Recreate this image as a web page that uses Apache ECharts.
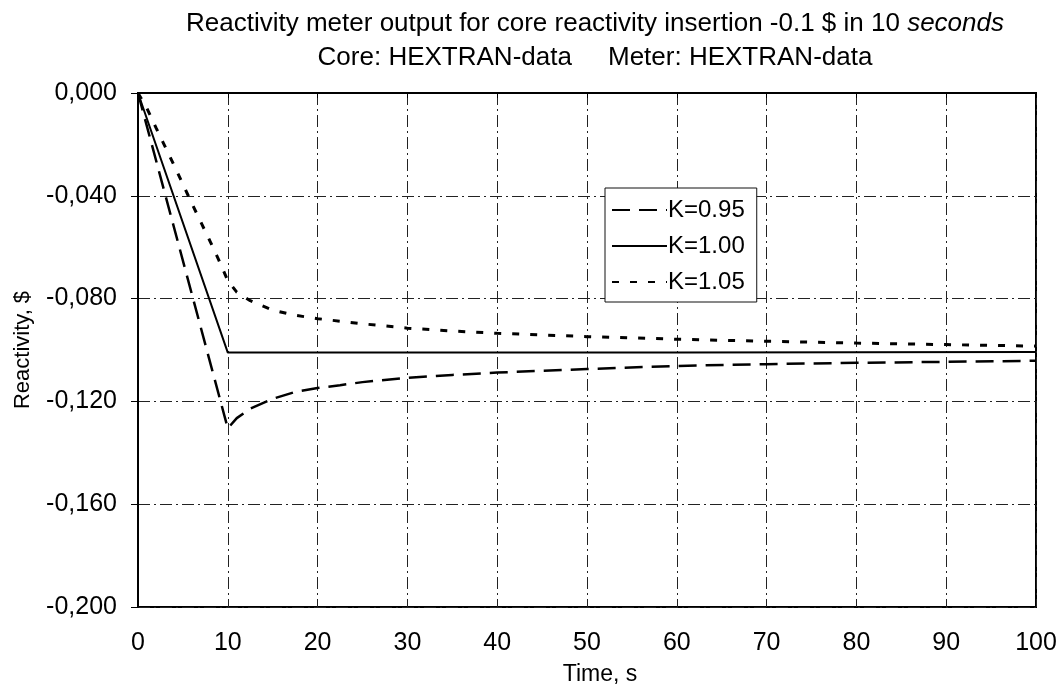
<!DOCTYPE html>
<html>
<head>
<meta charset="utf-8">
<title>Reactivity meter output</title>
<script src="https://cdn.jsdelivr.net/npm/echarts@6/dist/echarts.min.js"></script>
<style>
  html, body { margin: 0; padding: 0; background: #fff; }
  #main { width: 1063px; height: 698px; }
</style>
</head>
<body>
<div id="main"></div>
<script>
// time in seconds for each curve
const timeK095 = [0, 10, 11, 12.5, 15, 17.5, 20, 22.5, 25, 30, 35, 40, 50, 60, 70, 80, 90, 100];
const valK095 = [0, -0.1305, -0.1265, -0.1228, -0.1190, -0.1163, -0.1148, -0.1137, -0.1125, -0.1108, -0.1097, -0.1088, -0.1074, -0.1062, -0.1055, -0.1050, -0.1046, -0.1042];

const timeK100 = [0, 10, 20, 40, 60, 80, 100];
const valK100 = [0, -0.1010, -0.1010, -0.1010, -0.1010, -0.1009, -0.1008];

const timeK105 = [0, 1, 2, 4, 6, 8, 9, 10, 11, 12.5, 15, 17.5, 20, 25, 30, 35, 40, 50, 60, 70, 80, 90, 100];
const valK105 = [0, -0.0060, -0.0135, -0.0280, -0.0430, -0.0575, -0.0650, -0.0730, -0.0775, -0.0808, -0.0845, -0.0865, -0.0878, -0.0898, -0.0915, -0.0926, -0.0935, -0.0948, -0.0958, -0.0966, -0.0973, -0.0979, -0.0985];

const seriesNames = ["K=0.95", "K=1.00", "K=1.05"];

const font = "'Liberation Sans', Arial, Helvetica, sans-serif";

function pairs(xs, ys) {
  return xs.map((x, i) => [x, ys[i]]);
}

const gridLine = { color: "#222", width: 1, type: [12, 4, 2, 4] };

const myChart = echarts.init(document.getElementById("main"));

myChart.setOption({
  backgroundColor: "#fff",
  animation: false,
  title: {
    text: "Reactivity meter output for core reactivity insertion -0.1 $ in 10 {i|seconds}\nCore: HEXTRAN-data     Meter: HEXTRAN-data",
    left: 595,
    top: 7,
    padding: 0,
    textAlign: "center",
    textStyle: {
      fontFamily: font,
      fontSize: 26,
      fontWeight: "normal",
      color: "#000",
      lineHeight: 34,
      rich: {
        i: {
          fontFamily: font,
          fontSize: 26,
          fontStyle: "italic",
          color: "#000",
          lineHeight: 34,
        },
      },
    },
  },
  grid: {
    left: 138,
    right: 27,
    top: 93,
    bottom: 91,
    show: true,
    borderColor: "#000",
    borderWidth: 2,
    backgroundColor: "transparent",
  },
  legend: {
    orient: "vertical",
    left: 605,
    top: 188,
    data: seriesNames,
    itemWidth: 55,
    itemHeight: 20,
    itemGap: 12,
    padding: [10, 12, 8, 6],
    backgroundColor: "#fff",
    borderColor: "#111",
    borderWidth: 1,
    itemStyle: { color: "rgba(0,0,0,0)", borderWidth: 0 },
    textStyle: {
      fontFamily: font,
      fontSize: 24,
      lineHeight: 22,
      color: "#000",
      padding: [0, 0, 0, -4],
    },
  },
  xAxis: {
    type: "value",
    min: 0,
    max: 100,
    interval: 10,
    name: "Time, s",
    nameLocation: "middle",
    nameGap: 56,
    nameTextStyle: { fontFamily: font, fontSize: 23, color: "#000", padding: [0, 0, 0, 26] },
    axisLine: { show: true, lineStyle: { color: "#000", width: 2 } },
    axisTick: { show: true, length: 5, lineStyle: { color: "#000" } },
    axisLabel: { fontFamily: font, fontSize: 25, color: "#000", margin: 24 },
    splitLine: { show: true, lineStyle: gridLine },
  },
  yAxis: {
    type: "value",
    min: -0.2,
    max: 0,
    interval: 0.04,
    name: "Reactivity, $",
    nameLocation: "middle",
    nameGap: 104,
    nameTextStyle: { fontFamily: font, fontSize: 22, color: "#000" },
    axisLine: { show: true, lineStyle: { color: "#000", width: 2 } },
    axisTick: { show: true, length: 7, lineStyle: { color: "#000" } },
    axisLabel: {
      fontFamily: font,
      fontSize: 25,
      color: "#000",
      margin: 21,
      formatter: (v) => {
        const s = Math.abs(v) < 1e-9 ? "0.000" : v.toFixed(3);
        return s.replace(".", ",");
      },
    },
    splitLine: { show: true, lineStyle: gridLine },
  },
  series: [
    {
      name: seriesNames[0],
      type: "line",
      symbol: "none",
      data: pairs(timeK095, valK095),
      lineStyle: { color: "#000", width: 2.5, type: [18, 9] },
      itemStyle: { color: "#000" },
    },
    {
      name: seriesNames[1],
      type: "line",
      symbol: "none",
      data: pairs(timeK100, valK100),
      lineStyle: { color: "#000", width: 2, type: "solid" },
      itemStyle: { color: "#000" },
    },
    {
      name: seriesNames[2],
      type: "line",
      symbol: "none",
      data: pairs(timeK105, valK105),
      lineStyle: { color: "#000", width: 3, type: [7, 11] },
      itemStyle: { color: "#000" },
    },
  ],
});
</script>
</body>
</html>
